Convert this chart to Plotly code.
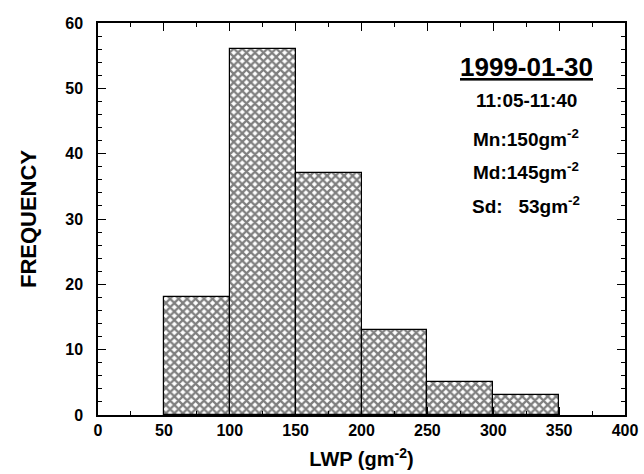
import plotly.graph_objects as go

# LWP histogram bins (g m^-2) and counts
bin_edges = [50, 100, 150, 200, 250, 300, 350]
counts = [18, 56, 37, 13, 5, 3]

date_label = "1999-01-30"
time_label = "11:05-11:40"
stat_labels = ["Mn:150gm<sup>-2</sup>", "Md:145gm<sup>-2</sup>", "Sd:   53gm<sup>-2</sup>"]

x_ticks = [0, 50, 100, 150, 200, 250, 300, 350, 400]
y_ticks = [0, 10, 20, 30, 40, 50, 60]

centers = [(a + b) / 2 for a, b in zip(bin_edges[:-1], bin_edges[1:])]
widths = [b - a for a, b in zip(bin_edges[:-1], bin_edges[1:])]

FONT = "Liberation Sans, Arial, sans-serif"

fig = go.Figure()
fig.add_trace(go.Bar(
    x=centers, y=counts, width=widths,
    marker=dict(
        color="white",
        line=dict(color="black", width=1.2),
        pattern=dict(shape="x", fgcolor="black", bgcolor="white", size=6, solidity=0.62),
    ),
    showlegend=False,
))

axis_common = dict(
    showline=True, linecolor="black", linewidth=1.5, mirror="ticks",
    ticks="inside", tickcolor="black", tickwidth=1.2,
    showgrid=False, zeroline=False, automargin=False,
    tickfont=dict(family=FONT, size=16, color="black", weight="bold"),
)

fig.update_xaxes(
    range=[0, 400], tickvals=x_ticks, ticklen=8,
    minor=dict(dtick=25, ticks="inside", ticklen=4, tickcolor="black", tickwidth=1.2),
    title=dict(text="<b>LWP (gm<sup>-2</sup>)</b>", font=dict(family=FONT, size=20, color="black"), standoff=14),
    **axis_common,
)
fig.update_yaxes(
    range=[0, 60], tickvals=y_ticks, ticklen=8, ticklabelstandoff=10,
    minor=dict(dtick=2, ticks="inside", ticklen=4, tickcolor="black", tickwidth=1.2),
    title=dict(text="<b>FREQUENCY</b>", font=dict(family=FONT, size=22, color="black"), standoff=23),
    **axis_common,
)

annotations = [
    dict(text=f"<b><u>{date_label}</u></b>", y=53.2, size=26),
    dict(text=f"<b>{time_label}</b>", y=48.1, size=19),
]
for label, yv in zip(stat_labels, [42.4, 37.3, 32.1]):
    annotations.append(dict(text=f"<b>{label}</b>", y=yv, size=19))

for a in annotations:
    fig.add_annotation(
        x=325, y=a["y"], xref="x", yref="y", text=a["text"], showarrow=False,
        font=dict(family=FONT, size=a["size"], color="black"),
        xanchor="center", yanchor="middle",
    )

fig.update_layout(
    width=644, height=474,
    margin=dict(l=98, r=19, t=23, b=59),
    plot_bgcolor="white", paper_bgcolor="white",
    bargap=0,
)

fig.write_html("out.html")
